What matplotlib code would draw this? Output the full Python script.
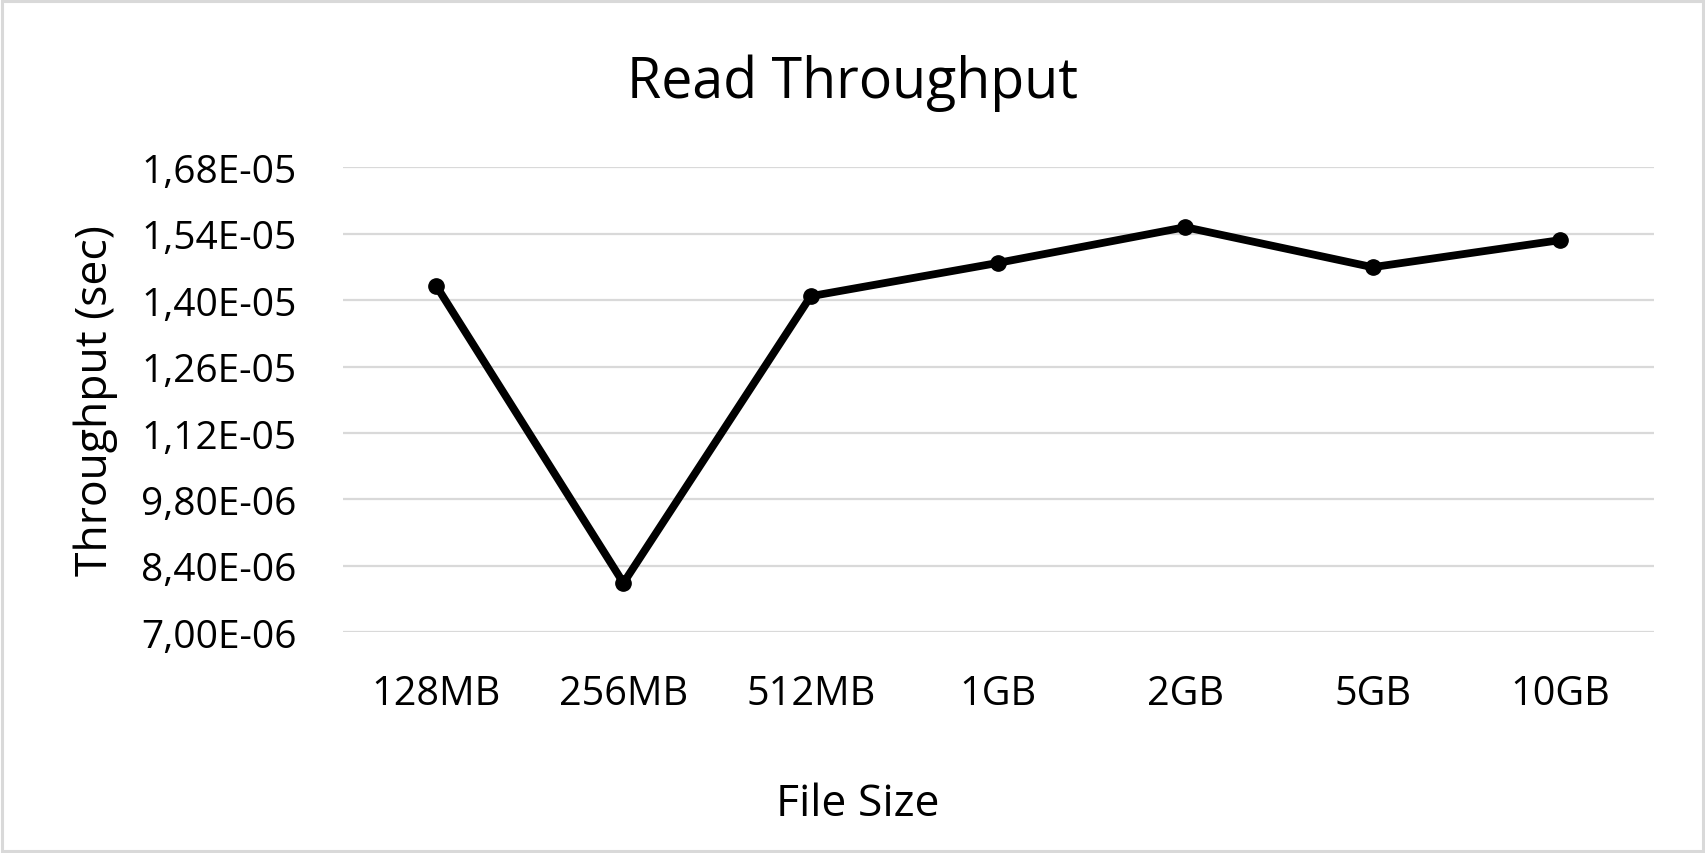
import matplotlib
matplotlib.use("Agg")
import matplotlib.pyplot as plt
from matplotlib.ticker import FuncFormatter, FixedLocator
from matplotlib.patches import Rectangle

categories = ["128MB", "256MB", "512MB", "1GB", "2GB", "5GB", "10GB"]
throughput = [1.4305e-05, 8.04e-06, 1.4084e-05, 1.4786e-05, 1.5539e-05, 1.4695e-05, 1.5265e-05]
y_ticks = [7.00e-06, 8.40e-06, 9.80e-06, 1.12e-05, 1.26e-05, 1.40e-05, 1.54e-05, 1.68e-05]

plt.rcParams['font.family'] = ['Open Sans', 'DejaVu Sans']

fig = plt.figure(figsize=(17.05, 8.54), dpi=100)
ax = fig.add_axes([0.2009, 0.2584, 0.7689, 0.5445])

x = list(range(len(categories)))
ax.plot(x, throughput, color='black', lw=5.6, marker='o', markersize=11,
        solid_capstyle='round', solid_joinstyle='round', zorder=3)

ax.set_xlim(-0.5, len(categories) - 0.5)
ax.set_ylim(y_ticks[0], y_ticks[-1])
ax.yaxis.set_major_locator(FixedLocator(y_ticks))
ax.yaxis.set_major_formatter(FuncFormatter(lambda v, p: f"{v:.2E}".replace('.', ',')))
ax.set_xticks(x)
ax.set_xticklabels(categories)

ax.grid(axis='y', color='#d9d9d9', lw=1.6)
ax.set_axisbelow(True)
for s in ax.spines.values():
    s.set_visible(False)
ax.tick_params(axis='both', length=0, labelsize=28, colors='black')
ax.tick_params(axis='y', pad=33)
ax.tick_params(axis='x', labelsize=28.5, pad=30)

fig.text(0.5, 0.885, "Read Throughput", fontsize=40, ha='center', va='baseline')
fig.text(0.503, 0.045, "File Size", fontsize=32, ha='center', va='baseline')
ax.set_ylabel("Throughput (sec)", fontsize=32, labelpad=17)

fig.patches.append(Rectangle((0.001, 0.002), 0.998, 0.996, transform=fig.transFigure,
                             fill=False, edgecolor='#d9d9d9', lw=2.2))

fig.savefig("out.png", dpi=100, facecolor='white')
